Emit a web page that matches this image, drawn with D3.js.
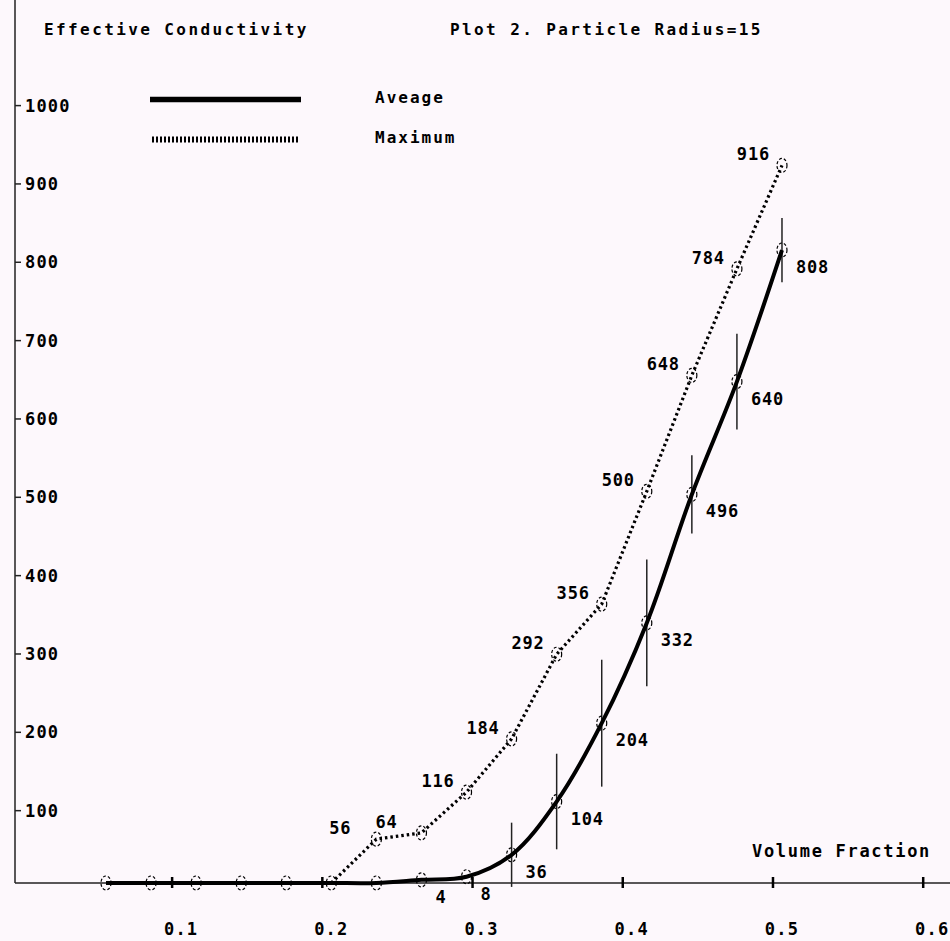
<!DOCTYPE html>
<html>
<head>
<meta charset="utf-8">
<script src="https://cdn.jsdelivr.net/npm/d3@7"></script>
<style>
  html, body { margin: 0; padding: 0; background: #fdf8fc; }
  svg { display: block; }
  text { font-family: "DejaVu Sans Mono", "Liberation Mono", monospace; fill: #000; }
</style>
</head>
<body>
<svg id="chart" width="950" height="941"></svg>
<script>
// ---- data ----
const volumeFraction = [0.05, 0.08, 0.11, 0.14, 0.17, 0.20, 0.23, 0.26, 0.29, 0.32, 0.35, 0.38, 0.41, 0.44, 0.47, 0.50];
const averageValues  = [0, 0, 0, 0, 0, 0, 0, 4, 8, 36, 104, 204, 332, 496, 640, 808];
const maximumValues  = [0, 0, 0, 0, 0, 0, 56, 64, 116, 184, 292, 356, 500, 648, 784, 916];
const averageError   = [0, 0, 0, 0, 0, 0, 0, 0, 0, 41, 61, 81, 81, 50, 61, 41];
const xTickValues = [0.1, 0.2, 0.3, 0.4, 0.5, 0.6];
const yTickValues = [100, 200, 300, 400, 500, 600, 700, 800, 900, 1000];
const titleLeft = "Effective Conductivity";
const titleRight = "Plot 2. Particle Radius=15";
const xAxisTitle = "Volume Fraction";
const legendNames = ["Aveage", "Maximum"];

// ---- layout ----
const svg = d3.select("#chart");
svg.append("rect").attr("width", 950).attr("height", 941).attr("fill", "#fdf8fc");

const x = d3.scaleLinear().domain([0, 0.6]).range([30.9, 932.2]);
const y = d3.scaleLinear().domain([0, 1000]).range([883, 99.6]);
const axisX0 = 15;

const avg = volumeFraction.map((v, i) => ({ v, val: averageValues[i], err: averageError[i] }));
const max = volumeFraction.map((v, i) => ({ v, val: maximumValues[i] }));

const labelFont = (sel, size, ls, weight) =>
  sel.style("font-size", size + "px").style("letter-spacing", ls + "px").style("font-weight", weight);

// axes lines
svg.append("line").attr("x1", axisX0).attr("x2", axisX0).attr("y1", 0).attr("y2", y(0))
  .attr("stroke", "#222").attr("stroke-width", 1.5);
svg.append("line").attr("x1", axisX0).attr("x2", 950).attr("y1", y(0)).attr("y2", y(0))
  .attr("stroke", "#222").attr("stroke-width", 1.5);

// y ticks
const yT = svg.append("g");
yT.selectAll("line").data(yTickValues).join("line")
  .attr("x1", axisX0).attr("x2", axisX0 + 6)
  .attr("y1", d => y(d) + 6).attr("y2", d => y(d) + 6)
  .attr("stroke", "#222").attr("stroke-width", 1.5);
yT.selectAll("text").data(yTickValues).join("text")
  .attr("x", axisX0 + 10).attr("y", d => y(d) + 6)
  .attr("dominant-baseline", "central")
  .text(d => d)
  .call(labelFont, 17, 1.2, "bold");

// x ticks
const xT = svg.append("g");
xT.selectAll("line").data(xTickValues).join("line")
  .attr("x1", d => x(d) - 9).attr("x2", d => x(d) - 9)
  .attr("y1", y(0) - 6).attr("y2", y(0) + 5)
  .attr("stroke", "#000").attr("stroke-width", 2.5);
xT.selectAll("text").data(xTickValues).join("text")
  .attr("x", d => x(d)).attr("y", 935)
  .attr("text-anchor", "middle")
  .text(d => d.toFixed(1))
  .call(labelFont, 17, 1.2, "bold");

// x axis title
svg.append("text").attr("x", 752).attr("y", 857).text(xAxisTitle).call(labelFont, 17, 1.7, "bold");

// titles
svg.append("text").attr("x", 44).attr("y", 35).text(titleLeft).call(labelFont, 16, 2.4, "bold");
svg.append("text").attr("x", 450).attr("y", 35).text(titleRight).call(labelFont, 16, 2.4, "bold");

// legend
svg.append("line").attr("x1", 150).attr("x2", 301).attr("y1", 99.5).attr("y2", 99.5)
  .attr("stroke", "#000").attr("stroke-width", 5.5);
svg.append("line").attr("x1", 152).attr("x2", 300).attr("y1", 139.5).attr("y2", 139.5)
  .attr("stroke", "#000").attr("stroke-width", 6).attr("stroke-dasharray", "2,2");
svg.append("text").attr("x", 375).attr("y", 103).text(legendNames[0]).call(labelFont, 16, 2.0, "bold");
svg.append("text").attr("x", 375).attr("y", 143).text(legendNames[1]).call(labelFont, 16, 2.0, "bold");

// error bars
svg.append("g").selectAll("line").data(avg.filter(d => d.err > 0)).join("line")
  .attr("x1", d => x(d.v)).attr("x2", d => x(d.v))
  .attr("y1", d => y(d.val + d.err)).attr("y2", d => y(d.val - d.err))
  .attr("stroke", "#222").attr("stroke-width", 1.5);

// maximum line (dotted, straight segments)
svg.append("path").datum(max.filter(d => d.v >= 0.2 - 1e-9))
  .attr("fill", "none").attr("stroke", "#000").attr("stroke-width", 3.2)
  .attr("stroke-dasharray", "2.5,3")
  .attr("d", d3.line().x(d => x(d.v)).y(d => y(d.val)));

// average line (thick, smooth)
svg.append("path").datum(avg)
  .attr("fill", "none").attr("stroke", "#000").attr("stroke-width", 4)
  .attr("d", d3.line().curve(d3.curveCatmullRom.alpha(0.5)).x(d => x(d.v)).y(d => y(d.val)));

// markers
const markerData = avg.map(d => ({ v: d.v, val: d.val }))
  .concat(max.filter(d => d.val > 0).map(d => ({ v: d.v, val: d.val })));
svg.append("g").selectAll("ellipse").data(markerData).join("ellipse")
  .attr("cx", d => x(d.v)).attr("cy", d => y(d.val))
  .attr("rx", 5).attr("ry", 7)
  .attr("fill", "none").attr("stroke", "#000").attr("stroke-width", 1.2)
  .attr("stroke-dasharray", "3,2");

// value labels: maximum (upper-left)
const maxNudge = { 56: -13, 64: -12 };
svg.append("g").selectAll("text").data(max.filter(d => d.val > 0)).join("text")
  .attr("x", d => x(d.v) - 12 + (maxNudge[d.val] || 0))
  .attr("y", d => y(d.val) - 5)
  .attr("text-anchor", "end")
  .text(d => d.val)
  .call(labelFont, 17, 0.8, "bold");

// value labels: average (lower-right)
svg.append("g").selectAll("text").data(avg.filter(d => d.val > 0)).join("text")
  .attr("x", d => x(d.v) + 14)
  .attr("y", d => y(d.val) + 23)
  .text(d => d.val)
  .call(labelFont, 17, 0.8, "bold");
</script>
</body>
</html>
